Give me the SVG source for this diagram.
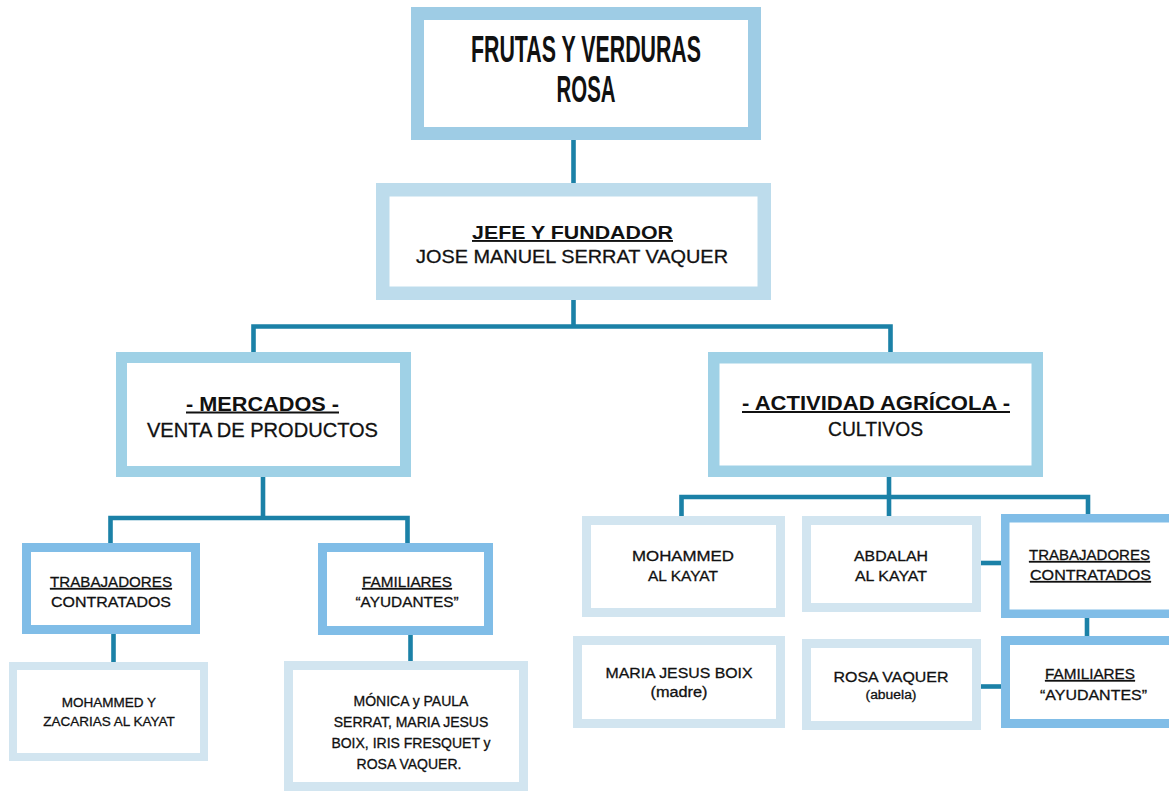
<svg xmlns="http://www.w3.org/2000/svg" width="1169" height="791" viewBox="0 0 1169 791">
<style>
.b{fill:#fff}
.t0{stroke:#9ecce5}
.t1{stroke:#bddcec}
.t2{stroke:#9fd1e6}
.t3{stroke:#80bde7}
.t4{stroke:#d2e5f0}
.c{fill:none;stroke:#1b81a7;stroke-width:4.6}
text{font-family:"Liberation Sans",Arial,sans-serif;fill:#111;text-anchor:middle;stroke:#111;stroke-width:0.3}
.bold{font-weight:bold;stroke-width:0}
.u{text-decoration:underline}
</style>
<rect width="1169" height="791" fill="#fff"/>
<g id="connectors">
<path class="c" d="M573.5 140 V183"/>
<path class="c" d="M573.5 300 V326.5"/>
<path class="c" d="M253.5 352 V326.5 H890.5 V352"/>
<path class="c" d="M263 477 V518"/>
<path class="c" d="M110.5 543 V518 H407.5 V543"/>
<path class="c" d="M113.5 634 V662"/>
<path class="c" d="M410.5 635 V661"/>
<path class="c" d="M889 477 V516"/>
<path class="c" d="M681.5 516 V497 H1088 V514"/>
<path class="c" d="M981 563 H1001"/>
<path class="c" d="M1087 618 V636"/>
<path class="c" d="M981 686.5 H1001"/>
</g>
<g id="title">
<rect class="b t0" x="417.5" y="13.5" width="337" height="120" stroke-width="13"/>
<text class="bold" x="586" y="62" font-size="37" textLength="230" lengthAdjust="spacingAndGlyphs">FRUTAS Y VERDURAS</text>
<text class="bold" x="586" y="102" font-size="37" textLength="59" lengthAdjust="spacingAndGlyphs">ROSA</text>
</g>
<g id="jefe">
<rect class="b t1" x="382.75" y="189.75" width="381.5" height="103.5" stroke-width="13.5"/>
<text class="bold u" x="572.5" y="239" font-size="19" textLength="201" lengthAdjust="spacingAndGlyphs">JEFE Y FUNDADOR</text>
<text x="572" y="263" font-size="19" textLength="312" lengthAdjust="spacingAndGlyphs">JOSE MANUEL SERRAT VAQUER</text>
</g>
<g id="mercados">
<rect class="b t2" x="121.5" y="357.5" width="284" height="114" stroke-width="11"/>
<text class="bold u" x="262.5" y="410.5" font-size="20" textLength="153" lengthAdjust="spacingAndGlyphs">- MERCADOS -</text>
<text x="262.5" y="436.5" font-size="20" textLength="231" lengthAdjust="spacingAndGlyphs">VENTA DE PRODUCTOS</text>
</g>
<g id="actividad">
<rect class="b t2" x="713.75" y="357.75" width="323.5" height="113.5" stroke-width="11.5"/>
<text class="bold u" x="876" y="410" font-size="20" textLength="268" lengthAdjust="spacingAndGlyphs">- ACTIVIDAD AGRÍCOLA -</text>
<text x="875.5" y="435.5" font-size="20" textLength="95" lengthAdjust="spacingAndGlyphs">CULTIVOS</text>
</g>
<g id="trabajadores-mercados">
<rect class="b t3" x="26.5" y="547.5" width="169" height="82" stroke-width="9"/>
<text class="u" x="111" y="587" font-size="15.5" textLength="122" lengthAdjust="spacingAndGlyphs">TRABAJADORES</text>
<text x="111" y="607" font-size="15.5" textLength="120" lengthAdjust="spacingAndGlyphs">CONTRATADOS</text>
</g>
<g id="familiares-mercados">
<rect class="b t3" x="322.5" y="547.5" width="166" height="83" stroke-width="9"/>
<text class="u" x="407" y="587" font-size="15.5" textLength="90" lengthAdjust="spacingAndGlyphs">FAMILIARES</text>
<text x="407" y="607" font-size="15.5" textLength="103" lengthAdjust="spacingAndGlyphs">“AYUDANTES”</text>
</g>
<g id="mohammed-zacarias">
<rect class="b t4" x="13" y="666" width="191" height="91" stroke-width="8"/>
<text x="109" y="707" font-size="13.5">MOHAMMED Y</text>
<text x="109" y="726" font-size="13.5">ZACARIAS AL KAYAT</text>
</g>
<g id="familiares-lista">
<rect class="b t4" x="288.5" y="665.5" width="235" height="121" stroke-width="9"/>
<text x="411" y="706" font-size="14">MÓNICA y PAULA</text>
<text x="411" y="727" font-size="14">SERRAT, MARIA JESUS</text>
<text x="411" y="748" font-size="14">BOIX, IRIS FRESQUET y</text>
<text x="409" y="769" font-size="14">ROSA VAQUER.</text>
</g>
<g id="mohammed-al-kayat">
<rect class="b t4" x="586.5" y="520.5" width="194" height="92" stroke-width="9"/>
<text x="683" y="561" font-size="15.5" textLength="102" lengthAdjust="spacingAndGlyphs">MOHAMMED</text>
<text x="683" y="581" font-size="15.5" textLength="70" lengthAdjust="spacingAndGlyphs">AL KAYAT</text>
</g>
<g id="maria-jesus-boix">
<rect class="b t4" x="577.5" y="640.5" width="203" height="83" stroke-width="9"/>
<text x="679" y="678" font-size="15.5" textLength="147" lengthAdjust="spacingAndGlyphs">MARIA JESUS BOIX</text>
<text x="679" y="697" font-size="14" textLength="57" lengthAdjust="spacingAndGlyphs">(madre)</text>
</g>
<g id="abdalah-al-kayat">
<rect class="b t4" x="806.5" y="520.5" width="170" height="87" stroke-width="9"/>
<text x="891" y="561" font-size="15.5" textLength="74" lengthAdjust="spacingAndGlyphs">ABDALAH</text>
<text x="891" y="581" font-size="15.5" textLength="72" lengthAdjust="spacingAndGlyphs">AL KAYAT</text>
</g>
<g id="rosa-vaquer">
<rect class="b t4" x="806.5" y="643.5" width="170" height="82" stroke-width="9"/>
<text x="891" y="682" font-size="15.5" textLength="115" lengthAdjust="spacingAndGlyphs">ROSA VAQUER</text>
<text x="891" y="699" font-size="12.5" textLength="51" lengthAdjust="spacingAndGlyphs">(abuela)</text>
</g>
<g id="trabajadores-agricola">
<rect class="b t3" x="1005.25" y="518.25" width="168.5" height="95.5" stroke-width="8.5"/>
<text class="u" x="1089.5" y="560" font-size="15.5" textLength="121" lengthAdjust="spacingAndGlyphs">TRABAJADORES</text>
<text class="u" x="1090.5" y="580" font-size="15.5" textLength="121" lengthAdjust="spacingAndGlyphs">CONTRATADOS</text>
</g>
<g id="familiares-agricola">
<rect class="b t3" x="1005.5" y="640.5" width="168" height="83" stroke-width="9"/>
<text class="u" x="1090" y="679" font-size="15.5" textLength="90" lengthAdjust="spacingAndGlyphs">FAMILIARES</text>
<text x="1093.5" y="700" font-size="15.5" textLength="107" lengthAdjust="spacingAndGlyphs">“AYUDANTES”</text>
</g>
</svg>
